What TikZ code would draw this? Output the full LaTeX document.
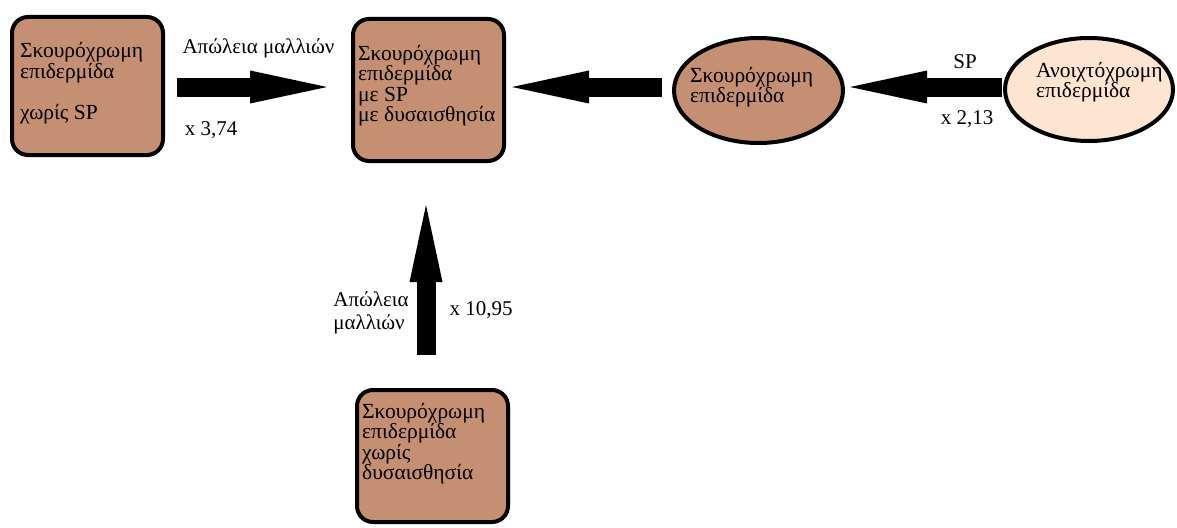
\documentclass[tikz,border=0pt]{standalone}
\usepackage{fontspec}
\setmainfont{Liberation Serif}
\usetikzlibrary{arrows.meta,shapes.geometric}
\definecolor{skin}{RGB}{196,143,114}
\definecolor{lightskin}{RGB}{253,229,209}
\tikzset{
  box/.style={draw=black,line width=4pt,rounded corners=16pt,fill=skin,minimum width=151pt},
  oval/.style={draw=black,line width=4pt,ellipse,inner sep=0pt},
  txt/.style={font=\fontsize{21.5}{20.5}\selectfont\lineskiplimit-30pt,align=left,inner sep=0pt},
  lbl/.style={font=\fontsize{21}{23}\selectfont\lineskiplimit-30pt,align=left,inner sep=0pt},
  big/.style={line width=19pt,-{Triangle[length=77pt,width=33pt,line width=0pt]}}
}
\begin{document}
\begin{tikzpicture}[x=1pt,y=-1pt]
\useasboundingbox (0,0) rectangle (1177,527);
\node[box,minimum height=138pt] (b1) at (87.5,86) {};
\node[box,minimum height=142pt] (b2) at (428.5,90) {};
\node[box,minimum height=132pt] (b4) at (432.5,456) {};
\node[oval,fill=skin,minimum width=169pt,minimum height=105pt] (e1) at (758.5,90.5) {};
\node[oval,fill=lightskin,minimum width=168pt,minimum height=103pt] (e2) at (1089,89.5) {};
% texts
\node[txt,anchor=north west] (t1) at (20,42.5) {Σκουρόχρωμη\\επιδερμίδα\\[20.5pt]χωρίς SP};
\node[txt,anchor=north west] (t2) at (358,45) {Σκουρόχρωμη\\επιδερμίδα\\με SP\\με δυσαισθησία};
\node[txt,anchor=north west] (t4) at (362,403) {Σκουρόχρωμη\\επιδερμίδα\\χωρίς\\δυσαισθησία};
\node[txt,anchor=north west] (te1) at (690,67) {Σκουρόχρωμη\\επιδερμίδα};
\node[txt,anchor=north west] (te2) at (1036,62) {Ανοιχτόχρωμη\\επιδερμίδα};
% arrows
\coordinate (vx) at (426,0);
\coordinate (vs) at (vx |- b4.north);
\coordinate (ve) at (vx |- b2.south);
\draw[big] ([xshift=12pt]b1.east |- 0,87) -- ([xshift=-24pt]b2.west |- 0,87);
\draw[big] ([xshift=-10pt]e1.west |- 0,87) -- ([xshift=6pt]b2.east |- 0,87);
\draw[big] ([xshift=-1pt]e2.west |- 0,87) -- ([xshift=5pt]e1.east |- 0,87);
\draw[big] ([yshift=33pt]vs) -- ([yshift=-42pt]ve);
% labels
\node[lbl] (l1) at (258.5,48) {Απώλεια μαλλιών};
\node[lbl] (l2) at (211,130) {x 3,74};
\node[lbl] (l3) at (965,62) {SP};
\node[lbl] (l4) at (967,119) {x 2,13};
\node[lbl] (l5) at (371,313) {Απώλεια\\μαλλιών};
\node[lbl] (l6) at (481,310) {x 10,95};
\end{tikzpicture}
\end{document}
